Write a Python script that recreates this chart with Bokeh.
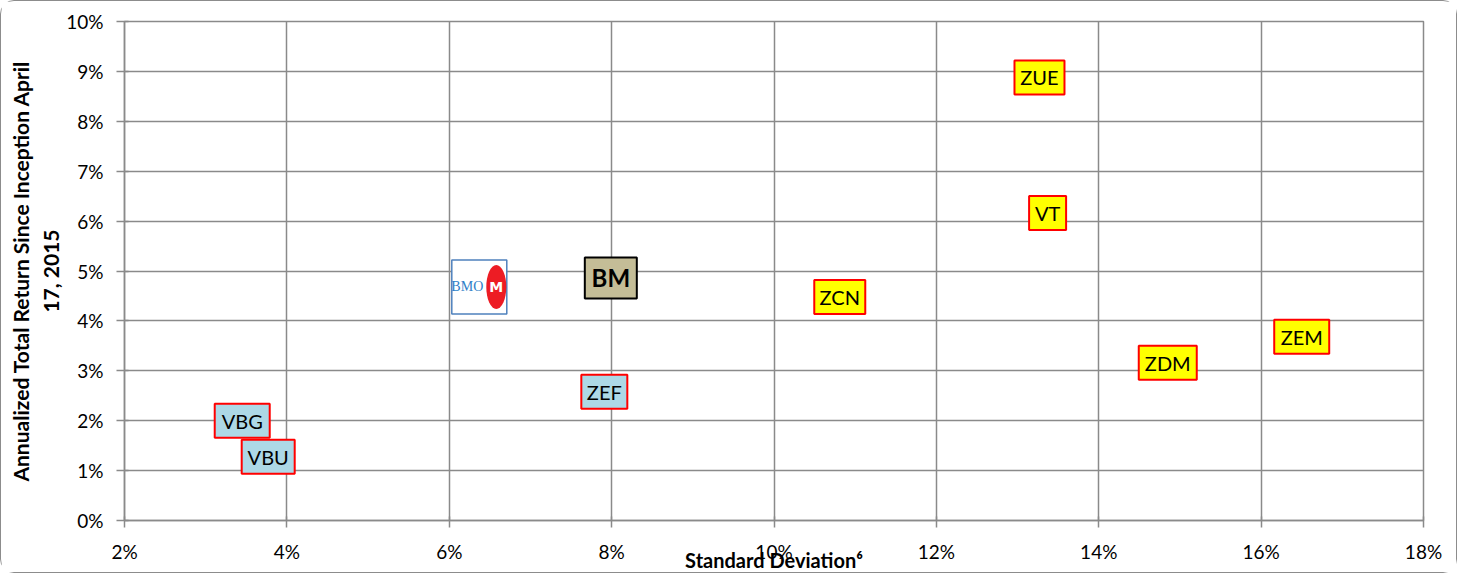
from bokeh.plotting import figure
from bokeh.models import ColumnDataSource, FixedTicker, PrintfTickFormatter
from bokeh.transform import dodge
from bokeh.core.properties import value
from bokeh.embed import file_html
from bokeh.resources import INLINE

# ---- data (percent) ----
names = ["VBG", "VBU", "ZEF", "ZCN", "ZUE", "VT", "ZDM", "ZEM"]
std_dev = [3.45, 3.77, 7.91, 10.81, 13.27, 13.37, 14.85, 16.50]
ann_return = [2.00, 1.28, 2.58, 4.48, 8.88, 6.16, 3.16, 3.68]
bm_name = ["BM"]
bm_std = [7.99]
bm_ret = [4.86]
bmo_std = [6.37]
bmo_ret = [4.68]
x_ticks = [2, 4, 6, 8, 10, 12, 14, 16, 18]
y_ticks = [0, 1, 2, 3, 4, 5, 6, 7, 8, 9, 10]
x_title = "Standard Deviation\u2076"
y_title = "Annualized Total Return Since Inception April\n17, 2015"

# ---- styles ----
BLUE = "#ADD8E6"
YELLOW = "#FFFF00"
fills = [BLUE, BLUE, BLUE, YELLOW, YELLOW, YELLOW, YELLOW, YELLOW]
box_w = [55, 53, 46, 51, 50, 37, 58, 55]
GRID = "#8a8a8a"
FONT = "Lato"

p = figure(width=1457, height=573, x_range=(2, 18), y_range=(0, 10),
           output_backend="svg", toolbar_location=None,
           min_border_left=123, min_border_right=35,
           min_border_top=20, min_border_bottom=53)
p.styles = {"border": "1.5px solid #8c8c8c", "border-radius": "14px"}
p.outline_line_color = GRID
p.outline_line_width = 1.5
p.background_fill_color = "white"
p.border_fill_color = "white"

for ax in (p.xaxis[0], p.yaxis[0]):
    ax.axis_line_color = GRID
    ax.axis_line_width = 1.5
    ax.major_tick_line_color = GRID
    ax.major_tick_line_width = 1.5
    ax.major_tick_in = 4
    ax.major_tick_out = 7
    ax.minor_tick_line_color = None
    ax.major_label_text_font = FONT
    ax.major_label_text_font_size = "19px"
    ax.major_label_text_color = "black"
    ax.axis_label_text_font = FONT
    ax.axis_label_text_font_style = "bold"
    ax.axis_label_text_font_size = "20px"
    ax.axis_label_text_color = "black"

p.xaxis.ticker = FixedTicker(ticks=x_ticks)
p.yaxis.ticker = FixedTicker(ticks=y_ticks)
p.xaxis.formatter = PrintfTickFormatter(format="%d%%")
p.yaxis.formatter = PrintfTickFormatter(format="%d%%")
p.xaxis.major_label_standoff = 12
p.xaxis.axis_label = x_title
p.xaxis.axis_label_standoff = -18
p.yaxis.major_tick_out = 8
p.yaxis.axis_label = y_title
p.yaxis.axis_label_text_font_size = "21px"
p.yaxis.axis_label_standoff = 0
p.yaxis.major_label_standoff = 13

p.grid.grid_line_color = GRID
p.grid.grid_line_width = 1.5
p.xgrid.ticker = FixedTicker(ticks=x_ticks)
p.ygrid.ticker = FixedTicker(ticks=y_ticks)

src = ColumnDataSource(dict(x=std_dev, y=ann_return, name=names, fill=fills, w=box_w))
p.rect(x="x", y="y", width="w", height=34, width_units="screen", height_units="screen",
       fill_color="fill", line_color="#FF0000", line_width=2, source=src)
p.text(x="x", y="y", text="name", text_font=value(FONT), text_font_size="20px",
       text_align="center", text_baseline="middle", text_color="black", source=src)

# BM benchmark box
bm_src = ColumnDataSource(dict(x=bm_std, y=bm_ret, name=bm_name))
p.rect(x="x", y="y", width=52, height=41, width_units="screen", height_units="screen",
       fill_color="#C4BD97", line_color="black", line_width=2, source=bm_src)
p.text(x="x", y="y", text="name", text_font=value(FONT), text_font_size="24px",
       text_font_style="bold", text_align="center", text_baseline="middle",
       text_color="black", source=bm_src)

# BMO logo
bmo_src = ColumnDataSource(dict(x=bmo_std, y=bmo_ret, t=["BMO"], m=["M"]))
p.rect(x="x", y="y", width=55, height=54, width_units="screen", height_units="screen",
       fill_color="white", line_color="#4F81BD", line_width=1.5, source=bmo_src)
p.text(x="x", y="y", text="t", x_offset=-12, text_font=value("Liberation Serif"),
       text_font_size="14px", text_align="center", text_baseline="middle",
       text_color="#2f7fc8", source=bmo_src)
p.ellipse(x=dodge("x", 17 / 81.2, range=p.x_range), y="y", width=20, height=44,
          width_units="screen", height_units="screen",
          fill_color="#ED1C24", line_color=None, source=bmo_src)
p.text(x="x", y="y", text="m", x_offset=17, text_font=value("DejaVu Sans"),
       text_font_size="14px", text_font_style="bold", text_align="center",
       text_baseline="middle", text_color="white", source=bmo_src)

open("out.html", "w").write(file_html(p, INLINE))
